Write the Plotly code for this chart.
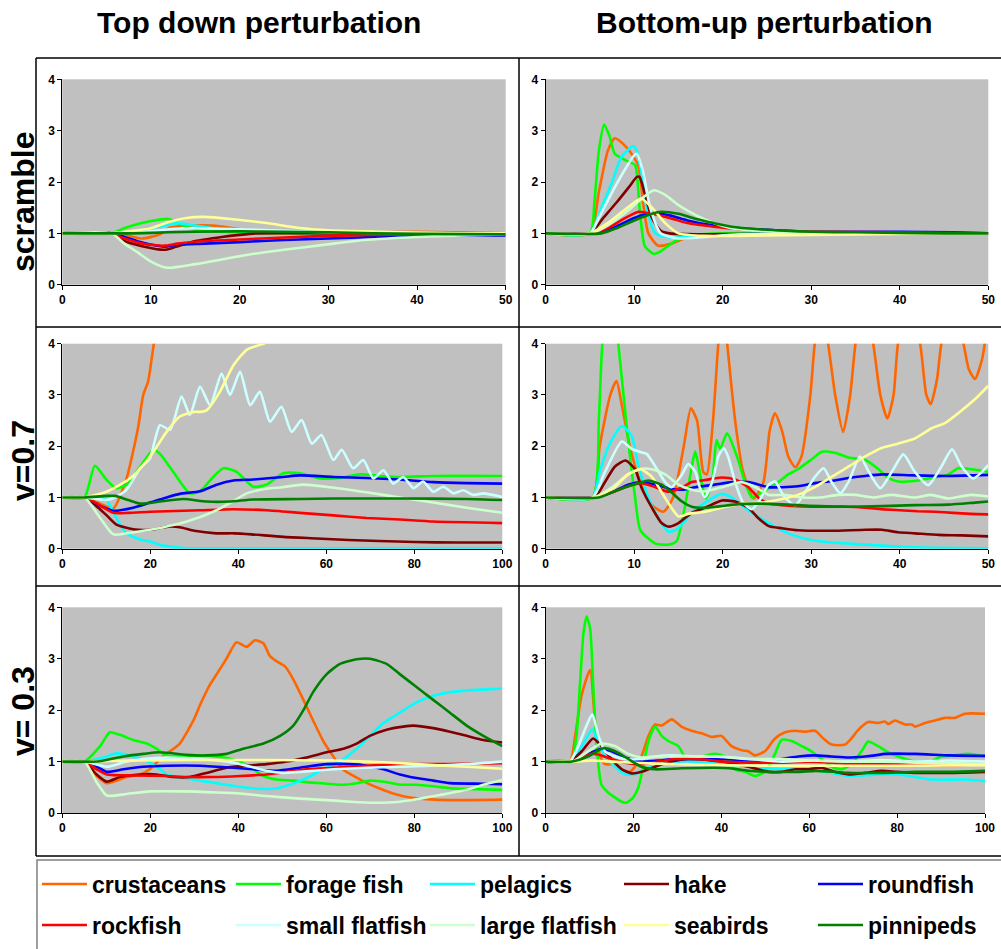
import plotly.graph_objects as go

W, H = 1001, 949

species = ["crustaceans", "forage fish", "pelagics", "hake", "roundfish",
           "rockfish", "small flatfish", "large flatfish", "seabirds", "pinnipeds"]
colors = ["#FF6600", "#00FF00", "#00FFFF", "#800000", "#0000FF",
          "#FF0000", "#CCFFFF", "#CCFFCC", "#FFFF99", "#008000"]

col_titles = ["Top down perturbation", "Bottom-up perturbation"]
row_titles = ["scramble", "v=0.7", "v= 0.3"]

# ---------------- data: (time, relative biomass) per species ----------------
td_scramble = {
    "crustaceans": ([0, 5.5, 7, 9, 11, 12, 14, 17, 20, 22, 26, 30, 35, 40, 44, 50],
                    [1, 1, 0.97, 0.9, 0.98, 1.1, 1.15, 1.15, 1.08, 1.05, 1.03, 1.02, 1.02, 1.03, 1.02, 1.0]),
    "forage fish": ([0, 5.5, 7, 8.5, 10, 12, 13, 15, 18, 22, 30, 50],
                    [1, 1, 1.1, 1.18, 1.24, 1.28, 1.2, 1.07, 1.03, 1.01, 1.0, 1.0]),
    "pelagics": ([0, 5.5, 8, 10, 12, 13, 15, 17, 20, 25, 30, 50],
                 [1, 1, 1.03, 1.1, 1.17, 1.2, 1.15, 1.1, 1.05, 1.02, 1.0, 0.99]),
    "hake": ([0, 5.5, 7, 9, 11.5, 12.5, 15, 18, 20, 22, 30, 50],
             [1, 1, 0.85, 0.75, 0.68, 0.72, 0.85, 0.93, 0.97, 1.0, 1.0, 0.99]),
    "roundfish": ([0, 5.5, 7, 9, 11.5, 13, 16, 20, 25, 30, 35, 40, 45, 50],
                  [1, 1, 0.93, 0.82, 0.74, 0.78, 0.8, 0.83, 0.87, 0.9, 0.93, 0.95, 0.96, 0.96]),
    "rockfish": ([0, 5.5, 7, 9, 11.5, 13, 16, 20, 25, 30, 35, 40, 50],
                 [1, 1, 0.9, 0.8, 0.76, 0.8, 0.85, 0.88, 0.92, 0.95, 0.97, 0.98, 0.98]),
    "small flatfish": ([0, 5.5, 9, 12, 15, 20, 25, 30, 40, 50],
                       [1, 1, 1.02, 1.08, 1.1, 1.08, 1.05, 1.02, 1.0, 1.0]),
    "large flatfish": ([0, 5.5, 7, 8.5, 10, 11.8, 15, 20.8, 25, 30.6, 34, 40, 45, 50],
                       [1, 1, 0.8, 0.63, 0.45, 0.33, 0.4, 0.58, 0.68, 0.8, 0.87, 0.93, 0.96, 0.98]),
    "seabirds": ([0, 5.5, 8, 10, 12, 14, 16, 19, 23, 27, 30, 34, 38, 45, 50],
                 [1, 1, 1.05, 1.1, 1.22, 1.3, 1.32, 1.28, 1.2, 1.1, 1.06, 1.04, 1.02, 1.0, 1.0]),
    "pinnipeds": ([0, 5, 8, 12, 15, 20, 25, 30, 35, 40, 50],
                  [1, 1, 1.0, 1.02, 1.03, 1.04, 1.03, 1.02, 1.0, 0.99, 0.98]),
}

bu_scramble = {
    "crustaceans": ([0, 5, 6, 7, 7.8, 9, 9.9, 10.5, 11, 11.6, 12.7, 14.2, 15.7, 18, 22, 30, 50],
                    [1, 1, 1.8, 2.6, 2.85, 2.7, 2.5, 2.3, 1.6, 1.0, 0.76, 0.8, 0.9, 0.97, 1.0, 1.0, 1.0]),
    "forage fish": ([0, 5, 5.5, 6, 6.6, 7.2, 7.8, 9.3, 10.1, 10.6, 11.2, 12.2, 13, 14.6, 16, 20, 50],
                    [1, 1, 1.6, 2.6, 3.12, 2.9, 2.55, 2.4, 2.33, 1.5, 0.75, 0.6, 0.65, 0.85, 0.95, 1.0, 1.0]),
    "pelagics": ([0, 5, 6.3, 7.5, 8.6, 9.9, 10.3, 10.9, 11.4, 12.4, 13.9, 16, 20, 25, 50],
                 [1, 1, 1.5, 2.0, 2.5, 2.7, 2.6, 2.1, 1.5, 1.0, 0.92, 0.93, 0.97, 1.0, 1.0]),
    "hake": ([0, 5, 6.5, 8, 9.4, 10.3, 10.6, 11.3, 12, 13, 14, 18, 30, 50],
             [1, 1, 1.3, 1.6, 1.9, 2.1, 2.1, 1.7, 1.3, 1.05, 1.0, 0.98, 1.0, 1.0]),
    "roundfish": ([0, 5, 7.5, 10, 12, 14, 16, 19, 22, 26, 30, 40, 46, 50],
                  [1, 1, 1.1, 1.3, 1.4, 1.35, 1.25, 1.15, 1.1, 1.06, 1.03, 1.03, 1.02, 1.0]),
    "rockfish": ([0, 5, 7, 9, 10.5, 12, 14, 16, 19, 22, 26, 30, 40, 50],
                 [1, 1, 1.1, 1.3, 1.42, 1.38, 1.3, 1.2, 1.13, 1.08, 1.05, 1.03, 1.02, 1.0]),
    "small flatfish": ([0, 5, 6, 7.5, 8.8, 9.9, 10.3, 11, 11.8, 13, 15, 18, 22, 50],
                       [1, 1, 1.3, 1.8, 2.2, 2.5, 2.55, 2.2, 1.5, 1.0, 0.9, 0.93, 0.98, 1.0]),
    "large flatfish": ([0, 5, 6.5, 9, 11, 12.2, 13.5, 15, 17, 19, 21, 24, 30, 50],
                       [1, 1, 1.1, 1.4, 1.7, 1.84, 1.75, 1.55, 1.35, 1.2, 1.1, 1.05, 1.0, 1.0]),
    "seabirds": ([0, 5, 7, 8.5, 10, 10.8, 12, 13.5, 15, 18, 25, 35, 45, 50],
                 [1, 1, 1.2, 1.4, 1.6, 1.68, 1.5, 1.2, 1.0, 0.95, 0.96, 0.98, 1.0, 1.0]),
    "pinnipeds": ([0, 6.3, 8, 10, 12, 13, 15, 17, 19, 21, 24, 27, 30, 35, 45, 50],
                  [1, 1, 1.1, 1.25, 1.38, 1.42, 1.38, 1.28, 1.2, 1.13, 1.08, 1.05, 1.03, 1.02, 1.0, 1.0]),
}

td_v07 = {
    "crustaceans": ([0, 5, 8, 11.6, 14.6, 16.1, 17.3, 18.4, 19.5, 20.3, 20.8, 21.5],
                    [1, 1, 0.9, 0.79, 1.37, 1.9, 2.4, 3.0, 3.26, 3.7, 4.0, 4.5]),
    "forage fish": ([0, 5, 7.4, 10, 12.3, 14.6, 17.7, 20.7, 22.2, 25.2, 29, 31.3, 34.3, 36.6, 39.6, 43.4,
                     46.4, 50.2, 54, 58.6, 63, 67.7, 72.2, 76.7, 84.3, 100],
                    [1, 1, 1.62, 1.35, 1.18, 1.25, 1.6, 1.93, 1.85, 1.5, 1.08, 1.12, 1.4, 1.57, 1.5, 1.21,
                     1.25, 1.47, 1.47, 1.37, 1.38, 1.45, 1.42, 1.4, 1.42, 1.42]),
    "pelagics": ([0, 5, 8.6, 10.1, 12.3, 14.6, 17.7, 19.9, 23, 26.7, 30, 40, 100],
                 [1, 1, 1.0, 0.95, 0.6, 0.3, 0.18, 0.14, 0.06, 0.02, 0.01, 0.01, 0.01]),
    "hake": ([0, 5, 7.5, 10.1, 12.3, 16.1, 19.9, 24, 26.7, 30, 35, 39, 43, 50.2, 57.8, 65, 72, 80, 90, 100],
             [1, 1, 0.85, 0.65, 0.47, 0.38, 0.37, 0.43, 0.42, 0.35, 0.3, 0.3, 0.28, 0.23, 0.2, 0.17, 0.15,
              0.13, 0.12, 0.12]),
    "roundfish": ([0, 5, 8, 11.6, 16.1, 19.9, 23.7, 26.7, 31.3, 35.1, 38.9, 43.4, 50.2, 54, 61.6, 69.2,
                   76.7, 84.3, 91.9, 100],
                  [1, 1, 0.86, 0.74, 0.8, 0.9, 1.0, 1.07, 1.12, 1.25, 1.33, 1.35, 1.4, 1.43, 1.4, 1.38,
                   1.35, 1.3, 1.28, 1.27]),
    "rockfish": ([0, 5, 7.5, 11.6, 15, 20, 31.3, 38.9, 46.4, 54, 61.6, 69.2, 76.7, 84.3, 100],
                 [1, 1, 0.9, 0.7, 0.7, 0.72, 0.75, 0.77, 0.75, 0.7, 0.65, 0.6, 0.57, 0.53, 0.5]),
    "small flatfish": ([0, 5, 10, 12, 14.6, 17.7, 19.9, 22.2, 24.5, 27.1, 29, 31.3, 33.6, 36.2, 38.1, 40.4,
                        42.7, 44.9, 47.2, 49.8, 52.1, 54.4, 56.7, 58.9, 61.6, 63.5, 66.1, 68.4, 70.7, 73,
                        75.2, 77.5, 79.8, 82, 84.3, 86.6, 88.9, 91.1, 93.4, 95.7, 100],
                       [1, 1, 0.95, 1.0, 1.15, 1.57, 1.76, 2.41, 2.32, 2.97, 2.61, 3.16, 2.8, 3.42, 3.0,
                        3.45, 2.8, 3.06, 2.48, 2.77, 2.28, 2.51, 2.05, 2.22, 1.73, 1.93, 1.57, 1.73, 1.37,
                        1.53, 1.27, 1.4, 1.18, 1.31, 1.11, 1.21, 1.08, 1.14, 1.05, 1.08, 1.01]),
    "large flatfish": ([0, 5, 8.6, 11.6, 14.6, 18.4, 23, 28.3, 34.3, 38.9, 41.9, 46.4, 50, 54.8, 60.8, 69.2,
                        76.7, 84.3, 91.9, 100],
                       [1, 1, 0.6, 0.28, 0.3, 0.35, 0.42, 0.53, 0.72, 0.93, 1.08, 1.17, 1.2, 1.25, 1.2, 1.1,
                        1.0, 0.9, 0.8, 0.7]),
    "seabirds": ([0, 5, 10, 15.4, 18.4, 20.7, 23.7, 26.7, 30, 31.5, 32.8, 35.8, 38.9, 41.9, 45.7, 47],
                 [1, 1, 1.11, 1.37, 1.63, 1.89, 2.28, 2.58, 2.67, 2.67, 2.7, 3.06, 3.58, 3.88, 4.0, 4.05]),
    "pinnipeds": ([0, 5, 10, 12, 15, 17.7, 22.2, 27.5, 32.8, 38, 43.4, 54, 61.6, 76.7, 91.9, 100],
                  [1, 1, 1.03, 1.03, 0.95, 0.88, 0.92, 0.97, 0.92, 0.92, 0.96, 0.97, 0.98, 0.98, 0.97, 0.95]),
}

bu_v07 = {
    "crustaceans": ([0, 5.3, 6.1, 7.3, 8.0, 8.6, 9.5, 10.7, 12, 13.3, 14.4, 15.6, 16.4, 17.1, 17.8, 18.2,
                     18.9, 19.5, 20, 20.5, 21.4, 22.3, 23.5, 24.6, 25.3, 25.9, 26.7, 27.4, 28.2, 28.9, 29.9,
                     30.4, 31.1, 31.9, 32.7, 33.6, 34.4, 35, 36, 37, 37.8, 38.6, 39.3, 39.8, 41, 42.3, 43,
                     43.5, 44.2, 44.7, 46, 47.2, 47.8, 48.5, 49.3, 49.6, 50],
                    [1, 1, 2.0, 3.0, 3.27, 2.8, 2.0, 1.3, 0.85, 0.72, 1.0, 2.0, 2.74, 2.5, 1.5, 1.45,
                     2.5, 4.0, 4.8, 4.0, 2.5, 1.5, 0.98, 1.3, 2.3, 2.64, 2.3, 1.8, 1.59, 1.8, 3.0,
                     4.0, 4.6, 4.0, 3.0, 2.28, 3.0, 4.0, 4.8, 4.0, 3.0, 2.54, 3.0, 4.0, 4.8, 4.0, 3.0,
                     2.82, 3.3, 4.0, 4.8, 4.0, 3.5, 3.31, 3.7, 4.0, 4.5]),
    "forage fish": ([0, 5.3, 6.0, 6.4, 7.3, 8.2, 9.2, 10.1, 10.7, 12.4, 13.9, 14.8, 15.7, 16.5, 16.9, 17.6,
                     18.1, 18.8, 19.3, 19.7, 20.5, 21.8, 22.5, 23.3, 24.4, 26.3, 27.4, 28.5, 30.1, 31.2,
                     32.7, 34.2, 36.1, 37.6, 38.7, 39.8, 41.7, 43.6, 45.5, 46.6, 48.1, 50],
                    [1, 1, 2.5, 4.0, 5.2, 4.0, 2.3, 1.0, 0.36, 0.1, 0.08, 0.15, 0.8, 1.6, 1.9, 1.3,
                     0.98, 1.3, 2.12, 1.95, 2.25, 1.7, 1.3, 1.0, 1.1, 1.3, 1.45, 1.55, 1.75, 1.89,
                     1.87, 1.78, 1.73, 1.55, 1.38, 1.31, 1.32, 1.38, 1.45, 1.57, 1.55, 1.5]),
    "pelagics": ([0, 5.3, 6.1, 7.1, 8.6, 9.7, 10.5, 11.6, 12.7, 13.9, 15, 16.5, 18, 19.9, 21, 22.9, 25.2,
                  27.4, 29.7, 32.3, 36.1, 39.8, 43.6, 50],
                 [1, 1, 1.5, 2.0, 2.4, 2.2, 1.6, 1.0, 0.6, 0.33, 0.4, 0.7, 0.9, 1.07, 1.0, 0.75, 0.5,
                  0.3, 0.18, 0.12, 0.08, 0.04, 0.02, 0.01]),
    "hake": ([0, 5.5, 6.7, 7.8, 9, 10.1, 10.8, 12, 13.1, 13.9, 15, 16.5, 18, 19.9, 21.4, 22.9, 24, 25.2,
              26.7, 28.5, 32.3, 36.1, 38, 39.8, 41.7, 44.4, 47, 50],
             [1, 1, 1.3, 1.6, 1.72, 1.55, 1.2, 0.8, 0.5, 0.43, 0.5, 0.7, 0.8, 0.94, 0.92, 0.8, 0.6, 0.44,
              0.4, 0.36, 0.35, 0.37, 0.37, 0.32, 0.3, 0.27, 0.26, 0.24]),
    "roundfish": ([0, 5.5, 7.5, 9.3, 10.8, 12.4, 13.9, 15.4, 16.9, 19.1, 21, 22.9, 25.2, 26.7, 28.5, 30.4,
                   32.3, 34.2, 36.1, 38, 41.7, 45.5, 50],
                  [1, 1, 1.1, 1.25, 1.3, 1.25, 1.18, 1.15, 1.2, 1.25, 1.3, 1.3, 1.2, 1.2, 1.22, 1.28,
                   1.32, 1.38, 1.42, 1.45, 1.43, 1.42, 1.44]),
    "rockfish": ([0, 5.5, 7.5, 9.3, 10.8, 12.4, 13.9, 15.4, 16.5, 18, 19.9, 21.4, 22.9, 24, 25.2, 26.7, 30,
                  34, 36.1, 38, 40, 42, 44, 46, 48, 50],
                 [1, 1, 1.1, 1.22, 1.28, 1.2, 1.11, 1.2, 1.3, 1.34, 1.39, 1.35, 1.2, 1.0, 0.88, 0.85, 0.82,
                  0.82, 0.8, 0.77, 0.75, 0.73, 0.72, 0.7, 0.68, 0.67]),
    "small flatfish": ([0, 5.3, 6.7, 8.6, 9.7, 10.8, 11.4, 12.4, 13.5, 14.2, 15.4, 16.1, 16.9, 17.4, 18,
                        18.8, 19.5, 20.1, 20.6, 21.4, 22.3, 23.3, 24, 25.2, 25.9, 27, 28.2, 29.3, 30.4,
                        31.4, 32.3, 33.3, 34.2, 35.5, 36.5, 37.8, 39.1, 40.4, 41.7, 43.2, 44.7, 45.9, 47,
                        48.3, 50],
                       [1, 1, 1.5, 2.09, 1.95, 1.88, 1.85, 1.6, 1.3, 1.2, 1.45, 1.65, 1.5, 1.2, 1.01,
                        1.3, 1.8, 1.96, 1.8, 1.3, 0.9, 0.77, 0.9, 1.25, 1.31, 1.0, 0.85, 1.1, 1.4,
                        1.57, 1.3, 1.08, 1.3, 1.8, 1.5, 1.18, 1.5, 1.84, 1.5, 1.24, 1.6, 1.94, 1.6,
                        1.37, 1.63]),
    "large flatfish": ([0, 5.5, 7.5, 9.3, 10.8, 12, 13.5, 15, 16.5, 18, 19.9, 22.1, 23.7, 25.2, 27, 29, 31,
                        33, 35, 37, 39, 41.7, 43.5, 45.5, 48, 50],
                       [1, 1, 1.2, 1.45, 1.56, 1.55, 1.45, 1.25, 1.15, 1.12, 1.2, 1.3, 1.2, 1.05, 1.05,
                        1.0, 1.0, 1.05, 1.05, 1.0, 1.05, 1.0, 1.05, 0.98, 1.05, 1.02]),
    "seabirds": ([0, 5.5, 7.8, 9.3, 10.7, 12, 13.1, 14.2, 15, 16.1, 18, 19.9, 22.1, 24.4, 26.7, 28.5, 30.4,
                  32.3, 34.2, 36.1, 38, 39.8, 41.7, 43.6, 45.1, 47, 48.7, 50],
                 [1, 1, 1.2, 1.45, 1.55, 1.4, 1.1, 0.8, 0.63, 0.68, 0.72, 0.8, 0.88, 0.9, 0.97, 1.05, 1.2,
                  1.4, 1.6, 1.8, 1.97, 2.05, 2.15, 2.35, 2.45, 2.7, 2.95, 3.18]),
    "pinnipeds": ([0, 6, 7.5, 9, 10.5, 11.6, 13.1, 14.2, 15.4, 16.5, 18, 21.8, 24, 26, 28.5, 31, 34, 38,
                   41.7, 45.5, 48.5, 50],
                  [1, 1, 1.1, 1.2, 1.28, 1.33, 1.25, 1.1, 0.92, 0.82, 0.8, 0.87, 0.88, 0.87, 0.85, 0.83,
                   0.82, 0.83, 0.85, 0.86, 0.9, 0.92]),
}

td_v03 = {
    "crustaceans": ([0, 5, 7.5, 10.1, 14.6, 17.7, 19.9, 22.2, 24.5, 26.7, 29.8, 31.3, 33.6, 35.1, 37.3,
                     39.6, 41.9, 43.8, 45.7, 47.2, 48.7, 50.6, 52.5, 54.8, 57, 59.3, 61.6, 63.9, 67.7,
                     71.4, 75.2, 79, 82.8, 88.1, 100],
                    [1, 1, 0.75, 0.58, 0.7, 0.75, 0.85, 1.05, 1.2, 1.35, 1.8, 2.1, 2.5, 2.7, 3.0,
                     3.32, 3.23, 3.36, 3.3, 3.05, 2.95, 2.85, 2.6, 2.2, 1.8, 1.4, 1.1, 0.84, 0.65,
                     0.5, 0.38, 0.3, 0.27, 0.25, 0.26]),
    "forage fish": ([0, 5, 8.6, 10.8, 13.1, 16.1, 19.2, 21.4, 23.7, 27.5, 32.8, 36.6, 40.4, 43.4, 45.7,
                     48.7, 52.5, 55.5, 60.1, 63.1, 66.9, 69.9, 73.7, 76.7, 80.5, 84.3, 88.1, 91.9, 100],
                    [1, 1, 1.3, 1.57, 1.52, 1.42, 1.35, 1.25, 1.12, 1.1, 1.12, 1.08, 1.0, 0.85, 0.72,
                     0.65, 0.63, 0.6, 0.57, 0.55, 0.58, 0.63, 0.6, 0.55, 0.55, 0.52, 0.48, 0.47, 0.45]),
    "pelagics": ([0, 5, 10.1, 12.3, 16.1, 19.9, 22.2, 23.7, 26, 29.8, 33.6, 37.3, 41.1, 44.9, 48, 51.7,
                  55.5, 59.3, 63.1, 66.9, 69.9, 73, 76.7, 80.5, 84.3, 88.1, 91.9, 95.7, 100],
                 [1, 1, 1.1, 1.16, 1.1, 0.98, 0.85, 0.75, 0.7, 0.65, 0.6, 0.55, 0.5, 0.47, 0.47, 0.55,
                  0.68, 0.85, 1.0, 1.25, 1.5, 1.75, 1.95, 2.15, 2.28, 2.35, 2.38, 2.4, 2.42]),
    "hake": ([0, 5, 7.8, 10.1, 13.1, 17.7, 21.4, 25.2, 29, 32.8, 37.3, 41.9, 46.4, 51, 55.5, 60.1, 63.9,
              66.9, 69.9, 73.7, 77.5, 79.8, 84.3, 88.1, 91.9, 95.7, 100],
             [1, 1, 0.75, 0.61, 0.7, 0.75, 0.75, 0.7, 0.7, 0.78, 0.88, 0.92, 0.95, 1.0, 1.08, 1.18, 1.25,
              1.35, 1.5, 1.62, 1.68, 1.7, 1.65, 1.58, 1.5, 1.42, 1.37]),
    "roundfish": ([0, 5, 7.8, 10.1, 13.9, 18.4, 23.7, 31.3, 38.9, 43.4, 48.7, 54, 60.1, 65.4, 69.2, 73,
                   76.7, 80.5, 84.3, 88.1, 95.7, 100],
                  [1, 1, 0.9, 0.8, 0.85, 0.9, 0.92, 0.92, 0.88, 0.85, 0.82, 0.88, 0.95, 0.95, 0.92, 0.85,
                   0.75, 0.68, 0.63, 0.58, 0.57, 0.56]),
    "rockfish": ([0, 5, 7.8, 10.1, 16.1, 23.7, 28.3, 34.3, 40.4, 46.4, 51, 55.5, 61.6, 69.2, 76.7, 88, 100],
                 [1, 1, 0.85, 0.75, 0.73, 0.72, 0.7, 0.7, 0.72, 0.75, 0.8, 0.85, 0.88, 0.92, 0.95, 0.95,
                  0.97]),
    "small flatfish": ([0, 5, 10.1, 14.6, 18.4, 23.7, 31.3, 37.3, 41.9, 46.4, 50.2, 54, 61.6, 69.2, 76.7,
                        84.3, 91.9, 100],
                       [1, 1, 0.9, 1.0, 1.05, 1.08, 1.05, 1.0, 0.92, 0.82, 0.78, 0.8, 0.85, 0.88, 0.9,
                        0.92, 0.95, 1.0]),
    "large flatfish": ([0, 5, 7.8, 10.1, 14.6, 19.9, 27.5, 35.1, 40.4, 46.4, 54, 60.1, 65.4, 70.7, 76.7,
                        81.3, 85.8, 91.9, 95.7, 100],
                       [1, 1, 0.6, 0.34, 0.37, 0.42, 0.42, 0.4, 0.38, 0.33, 0.28, 0.25, 0.22, 0.2, 0.22,
                        0.28, 0.35, 0.45, 0.55, 0.64]),
    "seabirds": ([0, 5, 16.1, 31, 46, 61.6, 69, 76.7, 84.3, 91.9, 100],
                 [1, 1, 1.02, 1.03, 1.03, 1.02, 1.0, 0.97, 0.93, 0.9, 0.86]),
    "pinnipeds": ([0, 5, 8, 13.9, 18.4, 22.2, 28.3, 32.8, 37.3, 41.1, 45.7, 49.5, 52.5, 54.8, 57, 60.1,
                   63.1, 66.9, 69.9, 73.7, 76.7, 80.5, 84.3, 88.1, 91.9, 95.7, 100],
                  [1, 1, 1.0, 1.1, 1.15, 1.18, 1.13, 1.12, 1.15, 1.25, 1.35, 1.5, 1.7, 2.0, 2.35, 2.7,
                   2.9, 2.99, 3.0, 2.9, 2.7, 2.45, 2.2, 1.95, 1.7, 1.5, 1.3]),
}

bu_v03 = {
    "crustaceans": ([0, 5.5, 6.7, 8.2, 10.1, 11.2, 12.4, 13.5, 15.8, 17.3, 19.2, 20.3, 21.8, 23.4, 24.9,
                     26.4, 28.7, 30.9, 33.2, 35.5, 37.8, 40, 42.3, 44.6, 46.1, 47.6, 49.9, 52.2, 54.5,
                     56.8, 59, 61.3, 63.2, 65.1, 68.1, 69.6, 71.2, 73.4, 75.7, 77.2, 78, 79.5, 81.8,
                     83.3, 84.1, 86.3, 88.6, 90.9, 93.2, 95.4, 100],
                    [1, 1, 1.5, 2.3, 2.78, 1.8, 1.1, 0.95, 0.95, 0.85, 0.8, 0.9, 1.1, 1.5, 1.72,
                     1.7, 1.82, 1.68, 1.6, 1.55, 1.48, 1.5, 1.3, 1.22, 1.2, 1.12, 1.2, 1.45, 1.57,
                     1.6, 1.58, 1.6, 1.45, 1.33, 1.33, 1.45, 1.62, 1.77, 1.75, 1.78, 1.73, 1.8, 1.72,
                     1.72, 1.68, 1.75, 1.8, 1.85, 1.85, 1.93, 1.93]),
    "forage fish": ([0, 3, 5.9, 7, 7.8, 8.6, 9.3, 10.1, 10.8, 11.6, 12.7, 14.2, 15.8, 17.3, 18.4, 19.9,
                     21.1, 22.2, 23.4, 24.9, 26.4, 27.9, 30.2, 31.7, 35.5, 38.5, 40.8, 43.1, 45.4, 47.6,
                     49.9, 52.2, 53.7, 56, 58.3, 60.5, 62.8, 65.1, 67.4, 69.6, 71.9, 73.4, 75.7, 78,
                     80.3, 84.1, 87, 90.1, 93.2, 96.2, 100],
                    [1, 1.02, 1, 1.5, 2.5, 3.5, 3.82, 3.6, 2.5, 1.3, 0.55, 0.4, 0.3, 0.22, 0.2, 0.3,
                     0.5, 0.9, 1.4, 1.68, 1.5, 1.4, 1.3, 1.1, 1.1, 1.15, 1.1, 0.85, 0.8, 0.72,
                     0.8, 1.15, 1.42, 1.4, 1.3, 1.2, 1.05, 0.9, 0.85, 0.95, 1.2, 1.39, 1.3, 1.18,
                     1.1, 1.0, 0.98, 1.1, 1.12, 1.15, 1.1]),
    "pelagics": ([0, 5.5, 8.2, 10.6, 12, 13.5, 15.8, 18.1, 20.3, 22.6, 25.6, 29.4, 34.7, 40, 46.1, 53.7,
                  59.8, 65.1, 68.9, 76.5, 80.3, 84.1, 87.9, 95.4, 100],
                 [1, 1, 1.3, 1.63, 1.35, 1.1, 0.9, 0.75, 0.75, 0.85, 0.95, 1.0, 1.0, 0.95, 0.9, 0.85,
                  0.85, 0.78, 0.72, 0.75, 0.75, 0.7, 0.65, 0.65, 0.62]),
    "hake": ([0, 5.5, 8.2, 10.8, 12.7, 15, 17.3, 19.6, 21.8, 24.9, 28.7, 32.5, 37, 41.6, 46.1, 50.7, 53.7,
              56.8, 59.8, 62.8, 65.8, 68.9, 72.7, 76.5, 80, 85, 92, 100],
             [1, 1, 1.2, 1.45, 1.3, 1.05, 0.85, 0.77, 0.8, 0.9, 1.0, 1.05, 1.03, 0.98, 0.9, 0.8, 0.8,
              0.85, 0.85, 0.88, 0.8, 0.75, 0.78, 0.82, 0.8, 0.78, 0.78, 0.8]),
    "roundfish": ([0, 6, 9.7, 12.7, 15, 18.1, 21.8, 25.6, 29.4, 35, 40, 46.1, 50, 53.7, 57.5, 61.3, 65,
                   68.9, 72.7, 75, 77.2, 84, 92, 100],
                  [1, 1, 1.15, 1.25, 1.2, 1.08, 1.0, 1.02, 1.05, 1.05, 1.05, 1.02, 1.02, 1.05, 1.1, 1.12,
                   1.1, 1.08, 1.1, 1.12, 1.15, 1.15, 1.12, 1.11]),
    "rockfish": ([0, 6, 10.5, 12.7, 15, 18.1, 21.8, 25.6, 29.4, 34.7, 40, 46.1, 53.7, 59.8, 65.1, 68.9,
                  76.5, 84.1, 91.7, 100],
                 [1, 1, 1.15, 1.12, 1.05, 0.98, 0.95, 1.0, 1.05, 1.05, 1.0, 0.98, 0.98, 1.0, 0.98, 0.95,
                  0.95, 0.95, 0.93, 0.95]),
    "small flatfish": ([0, 5.5, 7.4, 9.3, 10.6, 12, 13.5, 15.8, 18.1, 21.8, 24.9, 28.7, 34.7, 40, 46.1,
                        53.7, 61.3, 68.9, 76.5, 84.1, 91.7, 100],
                       [1, 1, 1.3, 1.7, 1.92, 1.5, 1.2, 1.1, 1.05, 1.05, 1.1, 1.12, 1.1, 1.1, 1.05, 1.0,
                        1.02, 1.0, 1.03, 1.0, 1.02, 1.0]),
    "large flatfish": ([0, 6, 9.7, 12.7, 15.8, 18.8, 21.8, 25.6, 30.9, 38.5, 46.1, 53.7, 61.3, 68.9, 76.5,
                        84.1, 91.7, 100],
                       [1, 1, 1.2, 1.35, 1.3, 1.15, 1.08, 1.1, 1.1, 1.1, 1.05, 1.05, 1.02, 1.0, 1.0, 0.98,
                        0.97, 0.95]),
    "seabirds": ([0, 6, 10.5, 15, 25, 40, 50, 60, 80, 100],
                 [1, 1, 1.02, 1.0, 0.96, 0.93, 0.92, 0.92, 0.92, 0.93]),
    "pinnipeds": ([0, 6, 9.7, 13.1, 15.8, 18.8, 21.8, 24.9, 30.9, 38.5, 42, 46.1, 50.7, 57.5, 61.3, 65.8,
                   68.9, 76.5, 84.1, 91.7, 100],
                  [1, 1, 1.1, 1.26, 1.2, 1.05, 0.9, 0.85, 0.87, 0.88, 0.87, 0.82, 0.8, 0.8, 0.82, 0.8,
                   0.78, 0.78, 0.8, 0.8, 0.82]),
}

panels = [td_scramble, bu_scramble, td_v07, bu_v07, td_v03, bu_v03]
x_ranges = [50, 50, 100, 50, 100, 100]
x_dticks = [10, 10, 20, 10, 20, 20]

# ---------------- layout geometry (pixels) ----------------
plot_px = [  # x0, x1, y_top, y_bottom
    (62.3, 505.7, 79.3, 284.7), (545.7, 988.3, 79.3, 284.7),
    (62.3, 502.3, 343.7, 548.7), (545.7, 988.3, 343.7, 548.7),
    (62.3, 502.3, 607.3, 813.0), (545.7, 985.0, 607.3, 813.0),
]

FONT = "Liberation Sans, Arial, Helvetica, sans-serif"

fig = go.Figure()
layout = {}
for i, (data, (x0, x1, yt, yb)) in enumerate(zip(panels, plot_px)):
    n = i + 1
    xa, ya = ("x" if n == 1 else f"x{n}"), ("y" if n == 1 else f"y{n}")
    for k, (sp, col) in enumerate(zip(species, colors)):
        t, v = data[sp]
        fig.add_trace(go.Scatter(
            x=t, y=v, mode="lines", name=sp, xaxis=xa, yaxis=ya,
            line=dict(color=col, width=2.6, shape="spline", smoothing=0.6),
            legendgroup=sp, showlegend=(n == 1),
            legend=("legend" if k < 5 else "legend2"), hoverinfo="skip"))
    axis_common = dict(showline=True, linecolor="black", linewidth=1, ticks="outside",
                       ticklen=4, tickcolor="black", showgrid=False, zeroline=False,
                       tickfont=dict(family=FONT, size=12, color="black", weight="bold"),
                       fixedrange=True)
    layout["xaxis" if n == 1 else f"xaxis{n}"] = dict(
        domain=[x0 / W, x1 / W], range=[0, x_ranges[i]], dtick=x_dticks[i], tick0=0,
        anchor=ya, **axis_common)
    layout["yaxis" if n == 1 else f"yaxis{n}"] = dict(
        domain=[1 - yb / H, 1 - yt / H], range=[0, 4], dtick=1, tick0=0,
        anchor=xa, **axis_common)

# frame lines of the grid
shapes = []
for yy in [58, 327, 586, 856]:
    shapes.append(dict(type="line", xref="paper", yref="paper", x0=36 / W, x1=1.01,
                       y0=1 - yy / H, y1=1 - yy / H, line=dict(color="black", width=1.5)))
for xx in [36, 519]:
    shapes.append(dict(type="line", xref="paper", yref="paper", x0=xx / W, x1=xx / W,
                       y0=1 - 58 / H, y1=1 - 856 / H, line=dict(color="black", width=1.5)))
# legend box
shapes.append(dict(type="rect", xref="paper", yref="paper", x0=37 / W, x1=1.02,
                   y0=-0.02, y1=1 - 860 / H, line=dict(color="#808080", width=1.5)))

annotations = []
for txt, cx in zip(col_titles, [259, 764]):
    annotations.append(dict(text=f"<b>{txt}</b>", x=cx / W, y=1 - 22 / H, xref="paper", yref="paper",
                            showarrow=False, xanchor="center", yanchor="middle",
                            font=dict(family=FONT, size=30, color="black")))
for txt, cy in zip(row_titles, [202, 461, 711]):
    annotations.append(dict(text=f"<b>{txt}</b>", x=23 / W, y=1 - cy / H, xref="paper", yref="paper",
                            showarrow=False, xanchor="center", yanchor="middle", textangle=-90,
                            font=dict(family=FONT, size=32, color="black")))

legend_common = dict(orientation="h", xanchor="left", yanchor="middle", x=37 / W,
                     itemwidth=45, entrywidth=134, entrywidthmode="pixels",
                     bgcolor="rgba(0,0,0,0)", borderwidth=0, tracegroupgap=0,
                     font=dict(family=FONT, size=23, color="black", weight="bold"),
                     itemclick=False, itemdoubleclick=False)

fig.update_layout(
    width=W, height=H, margin=dict(l=0, r=0, t=0, b=0, autoexpand=False),
    paper_bgcolor="white", plot_bgcolor="#C0C0C0",
    shapes=shapes, annotations=annotations,
    legend=dict(y=1 - 884 / H, **legend_common),
    legend2=dict(y=1 - 925 / H, **legend_common),
    **layout,
)

fig.write_html("out.html")
